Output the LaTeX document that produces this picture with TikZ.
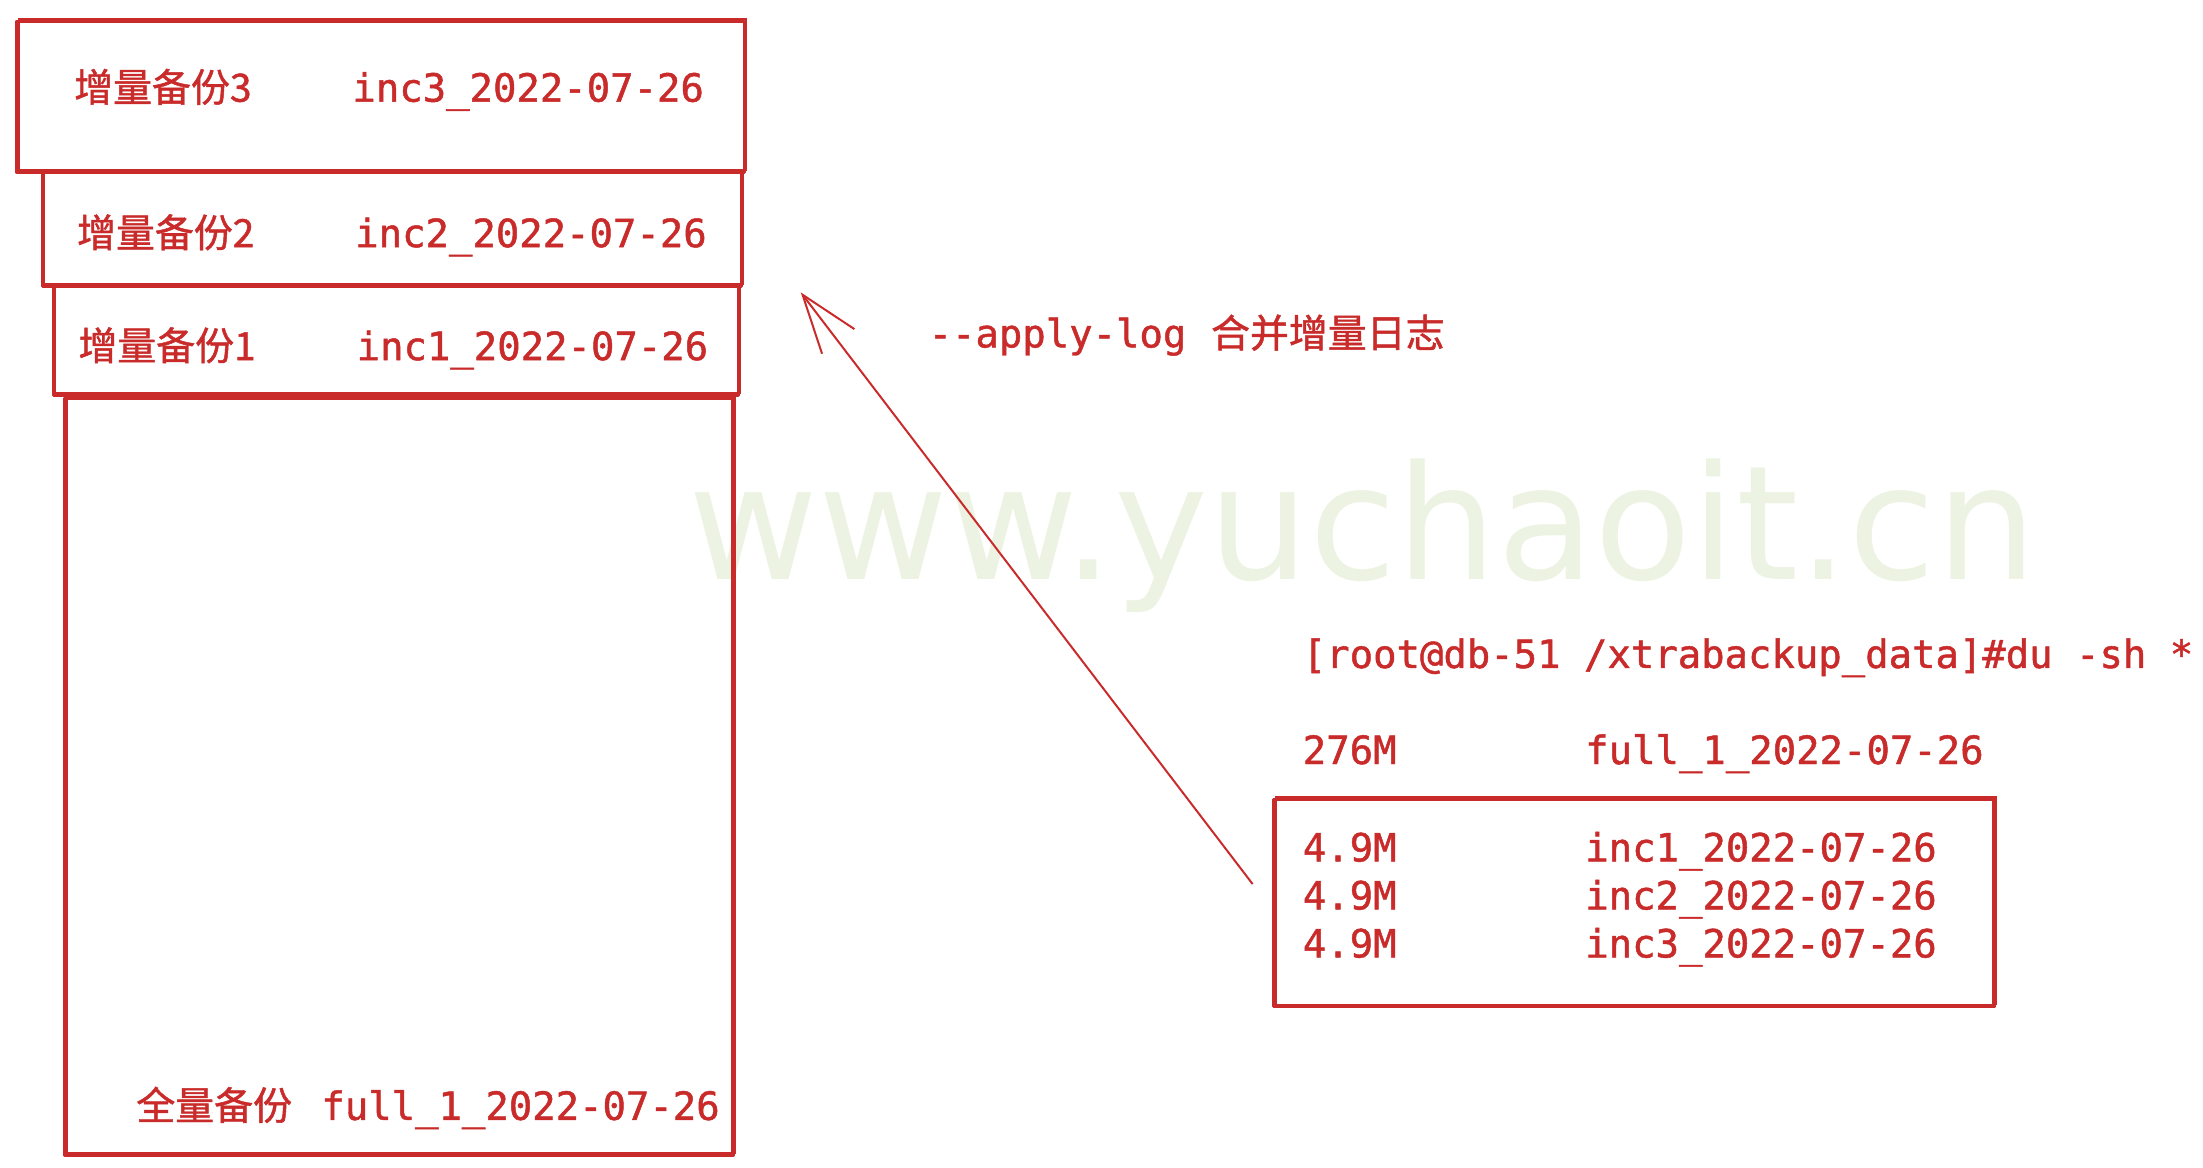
\documentclass[tikz,border=0pt]{standalone}
\usepackage{fontspec}
\newfontfamily\codefont{DejaVu Sans Mono}[FakeBold=1.2]
\newfontfamily\cjk{Noto Sans CJK SC}[FakeBold=1.2]
\newfontfamily\wmfont{DejaVu Sans}
\usetikzlibrary{arrows.meta}
\definecolor{sketchred}{HTML}{C92A2A}
\definecolor{wmgreen}{HTML}{EDF3E3}

\begin{document}
\begin{tikzpicture}[x=0.0125cm, y=-0.0125cm,
    box/.style={draw=sketchred, line width=0.8pt, line join=round,
      preaction={draw=sketchred, line width=0.4pt, transform canvas={shift={(0.5pt,0.6pt)}}}},
    txt/.style={anchor=base west, inner sep=0pt, text=sketchred, font=\fontsize{9.8pt}{12pt}\codefont},
    wmark/.style={anchor=base west, inner sep=0pt, text=wmgreen, font=\fontsize{40pt}{48pt}\wmfont}]
    \useasboundingbox (0,0) rectangle (1560,827);

    % watermark
    \node[wmark] (wm) at (487,410) {www.yuchaoit.cn};

    % backup stack
    \draw[box] (12,15) rectangle (527,122);
    \draw[box] (30,122) rectangle (525,203);
    \draw[box] (38,203) rectangle (523,280);
    \draw[box] (46,282) rectangle (519,818);

    \node[txt] (lab3) at (52,72) {\cjk 增量备份3};
    \node[txt] (inc3) at (249,72) {inc3\_2022-07-26};
    \node[txt] (lab2) at (54,175) {\cjk 增量备份2};
    \node[txt] (inc2) at (251,175) {inc2\_2022-07-26};
    \node[txt] (lab1) at (55,255) {\cjk 增量备份1};
    \node[txt] (inc1) at (252,255) {inc1\_2022-07-26};
    \node[txt] (fulllab) at (96,793) {\cjk 全量备份};
    \node[txt] (full) at (227,793) {full\_1\_2022-07-26};

    % apply-log arrow
    \coordinate (tail) at (887,626);
    \coordinate (tip) at (567,207);
    \draw[draw=sketchred, line width=0.5pt, -{Straight Barb[length=5.2mm, width=3.6mm]}] (tail) -- (tip);
    \node[txt] (apply) at (657,246) {-{}-apply-log};
    \node[txt] (merge) at (857,246) {\cjk 合并增量日志};

    % du output
    \node[txt] (cmd) at (922,473) {[root@db-51 /xtrabackup\_data]\#du -sh *};
    \node[txt] (size0) at (922,541) {276M};
    \node[txt] (dir0) at (1122,541) {full\_1\_2022-07-26};
    \draw[box] (902,566) rectangle (1412,713);
    \foreach \i/\y in {1/610, 2/644, 3/678} {
      \node[txt] (size\i) at (922,\y) {4.9M};
      \node[txt] (dir\i) at (1122,\y) {inc\i\_2022-07-26};
    }
\end{tikzpicture}
\end{document}
